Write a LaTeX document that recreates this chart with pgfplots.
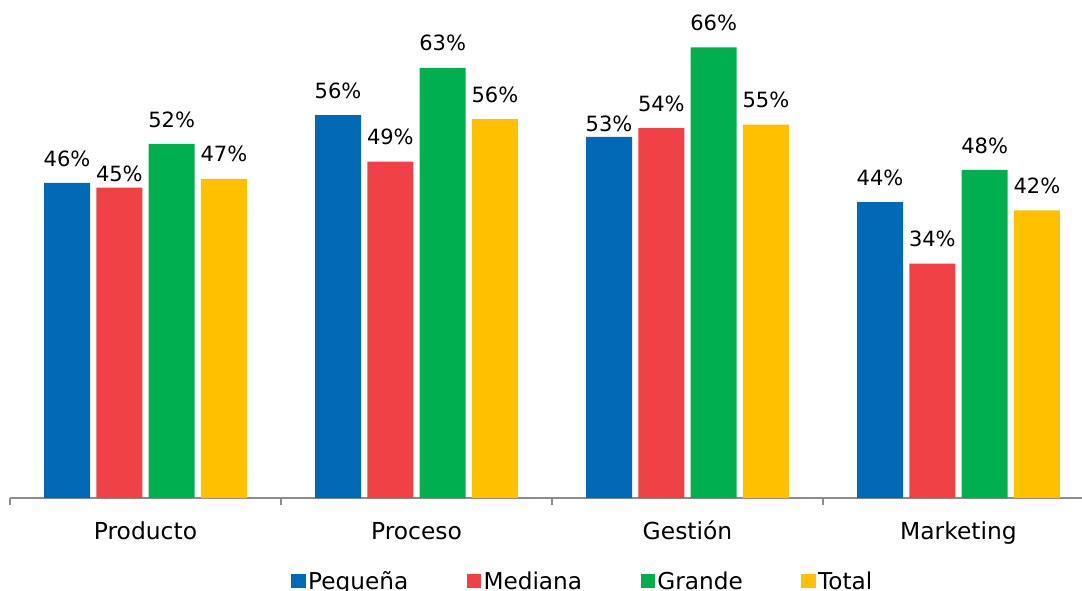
\documentclass[border=0pt]{standalone}
\usepackage{pgfplots}
\pgfplotsset{compat=1.18}
\usepackage{fontspec}
\setmainfont{DejaVu Sans}
\usetikzlibrary{calc}

\definecolor{cPeq}{HTML}{006AB7}
\definecolor{cMed}{HTML}{EF4146}
\definecolor{cGra}{HTML}{00B050}
\definecolor{cTot}{HTML}{FFC000}
\definecolor{axgray}{HTML}{8C8C8C}

\begin{document}
\begin{tikzpicture}
\begin{axis}[
  name=ax,
  scale only axis,
  width=1084pt, height=498pt,
  xmin=-0.5, xmax=3.5,
  ymin=0, ymax=72.7,
  axis x line*=bottom,
  axis y line=none,
  ytick=\empty,
  x axis line style={-, draw=axgray, line width=1.3pt},
  ybar=6.3pt, bar width=46pt,
  xtick={0,1,2,3},
  xticklabels={Producto,Proceso,Gestión,Marketing},
  typeset ticklabels with strut,
  major x tick style={draw=none},
  minor xtick={-0.5,0.5,1.5,2.5,3.5},
  minor tick length=7pt,
  tick align=outside,
  minor x tick style={draw=axgray, line width=1.3pt},
  xticklabel style={font=\fontsize{23.4}{26}\selectfont, yshift=-15pt},
  point meta=explicit,
  visualization depends on={value \thisrow{dy} \as \dy},
  nodes near coords={\pgfmathprintnumber[assume math mode=true]{\pgfplotspointmeta}\%},
  every node near coord/.append style={font=\fontsize{21}{24}\selectfont, black, yshift=\dy pt},
  legend columns=4,
  legend style={draw=none, fill=none, at={(0.5286,-0.1667)}, anchor=center,
    font=\fontsize{23.2}{26}\selectfont,
    /tikz/every even column/.append style={column sep=56pt},
    nodes={inner sep=2.4pt}},
  legend image code/.code={\fill[#1] (0pt,-7pt) rectangle (14.5pt,7.5pt);},
]
\addplot[fill=cPeq, draw=none] table[x=x, y=y, meta=m] {
x y m dy
0 46.0 46 13
1 55.9 56 13
2 52.7 53 2
3 43.2 44 13
};
\addplot[fill=cMed, draw=none] table[x=x, y=y, meta=m] {
x y m dy
0 45.3 45 2
1 49.1 49 13
2 54.0 54 13
3 34.2 34 13
};
\addplot[fill=cGra, draw=none] table[x=x, y=y, meta=m] {
x y m dy
0 51.7 52 13
1 62.8 63 13
2 65.8 66 13
3 47.9 48 13
};
\addplot[fill=cTot, draw=none] table[x=x, y=y, meta=m] {
x y m dy
0 46.6 47 13
1 55.3 56 13
2 54.5 55 13
3 42.0 42 13
};
\legend{Pequeña, Mediana, Grande, Total}
\end{axis}
\pgfresetboundingbox
\path[use as bounding box] ($(ax.south west)+(-10pt,-92pt)$) rectangle ($(ax.south west)+(1072pt,498pt)$);
\end{tikzpicture}
\end{document}
